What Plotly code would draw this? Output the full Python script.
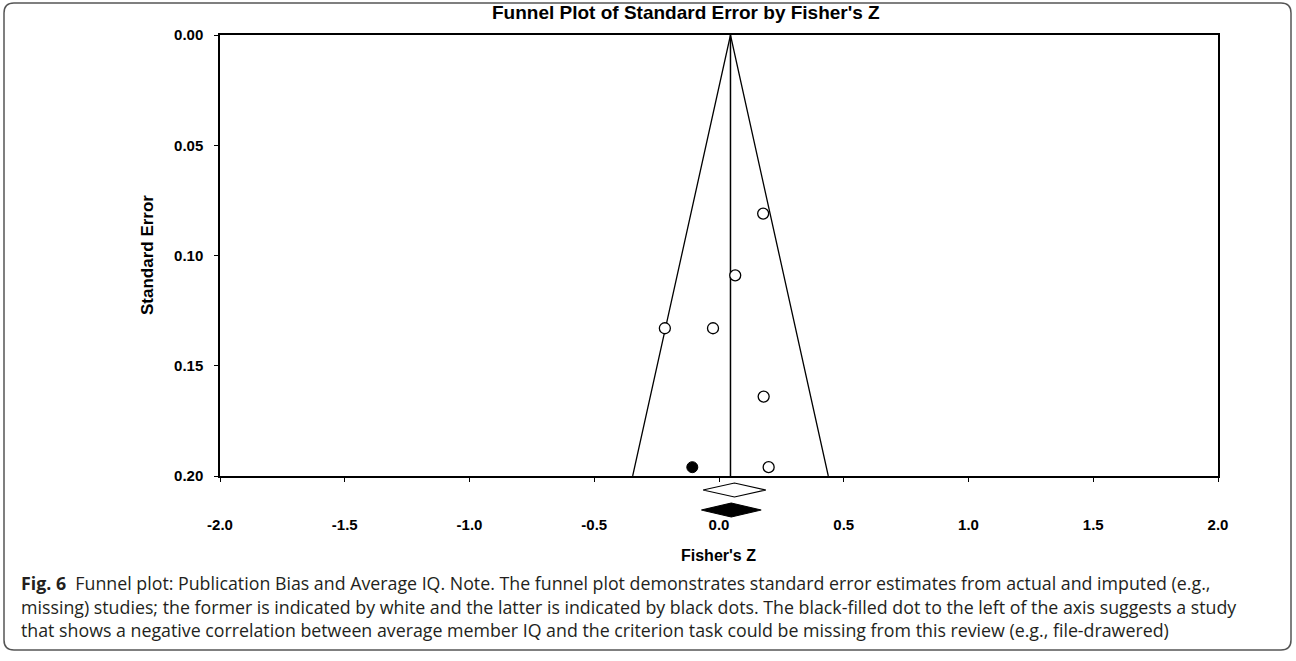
import plotly.graph_objects as go

# ---- data ----
obs_z = [0.177, 0.065, -0.217, -0.024, 0.179, 0.199]
obs_se = [0.081, 0.109, 0.133, 0.133, 0.164, 0.196]
imp_z = [-0.107]
imp_se = [0.196]
mean_z = 0.046
se_max = 0.20
z_crit = 1.96
obs_diamond = {"center": 0.062, "half": 0.126}
adj_diamond = {"center": 0.049, "half": 0.120}
x_ticks = [-2.0, -1.5, -1.0, -0.5, 0.0, 0.5, 1.0, 1.5, 2.0]
x_labels = ["-2.0", "-1.5", "-1.0", "-0.5", "0.0", "0.5", "1.0", "1.5", "2.0"]
y_ticks = [0.00, 0.05, 0.10, 0.15, 0.20]
y_labels = ["0.00", "0.05", "0.10", "0.15", "0.20"]

caption = [
    "<b>Fig. 6</b>  Funnel plot: Publication Bias and Average IQ. Note. The funnel plot demonstrates standard error estimates from actual and imputed (e.g.,",
    "missing) studies; the former is indicated by white and the latter is indicated by black dots. The black-filled dot to the left of the axis suggests a study",
    "that shows a negative correlation between average member IQ and the criterion task could be missing from this review (e.g., file-drawered)",
]

# ---- layout geometry (pixels) ----
W, H = 1296, 661
L, R, T, B = 220, 78, 35, 141
plot_bottom_px = H - B          # 520
axis_px = 476
plot_h = plot_bottom_px - T
main_dom0 = (plot_bottom_px - axis_px) / plot_h
plot_w = W - L - R

def px_x(p):
    return (p - L) / plot_w

def px_y(p):
    return (plot_bottom_px - p) / plot_h

fig = go.Figure()

# funnel
fig.add_trace(go.Scatter(
    x=[mean_z - z_crit * se_max, mean_z, mean_z + z_crit * se_max],
    y=[se_max, 0, se_max], mode="lines",
    line=dict(color="black", width=1.3), hoverinfo="skip", showlegend=False))
# vertical mean line
fig.add_trace(go.Scatter(
    x=[mean_z, mean_z], y=[0, se_max], mode="lines",
    line=dict(color="black", width=1.5), hoverinfo="skip", showlegend=False))
# observed studies
fig.add_trace(go.Scatter(
    x=obs_z, y=obs_se, mode="markers",
    marker=dict(symbol="circle", size=11, color="white",
                line=dict(color="black", width=1.3)),
    showlegend=False))
# imputed studies
fig.add_trace(go.Scatter(
    x=imp_z, y=imp_se, mode="markers",
    marker=dict(symbol="circle", size=11, color="black",
                line=dict(color="black", width=1)),
    showlegend=False))

# diamonds in lower strip subplot
dh = 0.35
for row, d, fill in [(1, obs_diamond, "white"), (2, adj_diamond, "black")]:
    c, h = d["center"], d["half"]
    fig.add_trace(go.Scatter(
        x=[c - h, c, c + h, c, c - h], y=[row, row - dh, row, row + dh, row],
        mode="lines", fill="toself", fillcolor=fill,
        line=dict(color="black", width=1.2), xaxis="x", yaxis="y2",
        hoverinfo="skip", showlegend=False))

fig.update_layout(
    width=W, height=H,
    margin=dict(l=L, r=R, t=T, b=B),
    paper_bgcolor="white", plot_bgcolor="white",
    font=dict(family="Arial", color="black"),
    xaxis=dict(range=[-2, 2], tickvals=x_ticks, ticktext=x_labels,
               showgrid=False, zeroline=False, showline=True, mirror=True,
               linecolor="black", linewidth=1.5, ticks="outside", ticklen=4,
               tickcolor="black", anchor="y",
               tickfont=dict(family="Arial", size=15, weight="bold"),
               ticklabelstandoff=30),
    yaxis=dict(range=[se_max, 0], domain=[main_dom0, 1], tickvals=y_ticks,
               ticktext=y_labels, showgrid=False, zeroline=False,
               showline=True, mirror=True, linecolor="black", linewidth=1.5,
               ticks="outside", ticklen=4, tickcolor="black", anchor="x",
               tickfont=dict(family="Arial", size=15, weight="bold"),
               ticklabelstandoff=8),
    yaxis2=dict(range=[2.5, 0.3], domain=[0, main_dom0], visible=False,
                anchor="x"),
)

ann = []
ann.append(dict(text="<b>Funnel Plot of Standard Error by Fisher's Z</b>",
                x=px_x(686), y=px_y(13), xref="paper", yref="paper",
                xanchor="center", yanchor="middle", showarrow=False,
                font=dict(family="Arial", size=19, color="black")))
ann.append(dict(text="<b>Standard Error</b>", textangle=-90,
                x=px_x(147), y=px_y(255), xref="paper", yref="paper",
                xanchor="center", yanchor="middle", showarrow=False,
                font=dict(family="Arial", size=17, color="black")))
ann.append(dict(text="<b>Fisher's Z</b>",
                x=px_x(718), y=px_y(555), xref="paper", yref="paper",
                xanchor="center", yanchor="middle", showarrow=False,
                font=dict(family="Liberation Sans Narrow, Arial", size=16,
                          color="black")))
for i, line in enumerate(caption):
    ann.append(dict(text=line, x=px_x(19), y=px_y(583 + 23.5 * i),
                    xref="paper", yref="paper", xanchor="left",
                    yanchor="middle", showarrow=False, align="left",
                    font=dict(family="Open Sans", size=17.8, color="#231f20")))
fig.update_layout(annotations=ann)

# rounded outer border
x0, x1 = px_x(4), px_x(1291)
y0, y1 = px_y(650), px_y(3)
rx, ry = 10 / plot_w, 10 / plot_h
path = (f"M {x0+rx},{y1} L {x1-rx},{y1} Q {x1},{y1} {x1},{y1-ry} "
        f"L {x1},{y0+ry} Q {x1},{y0} {x1-rx},{y0} L {x0+rx},{y0} "
        f"Q {x0},{y0} {x0},{y0+ry} L {x0},{y1-ry} Q {x0},{y1} {x0+rx},{y1} Z")
fig.add_shape(type="path", path=path, xref="paper", yref="paper",
              line=dict(color="#555", width=1.5), layer="below")

fig.write_html("out.html")
